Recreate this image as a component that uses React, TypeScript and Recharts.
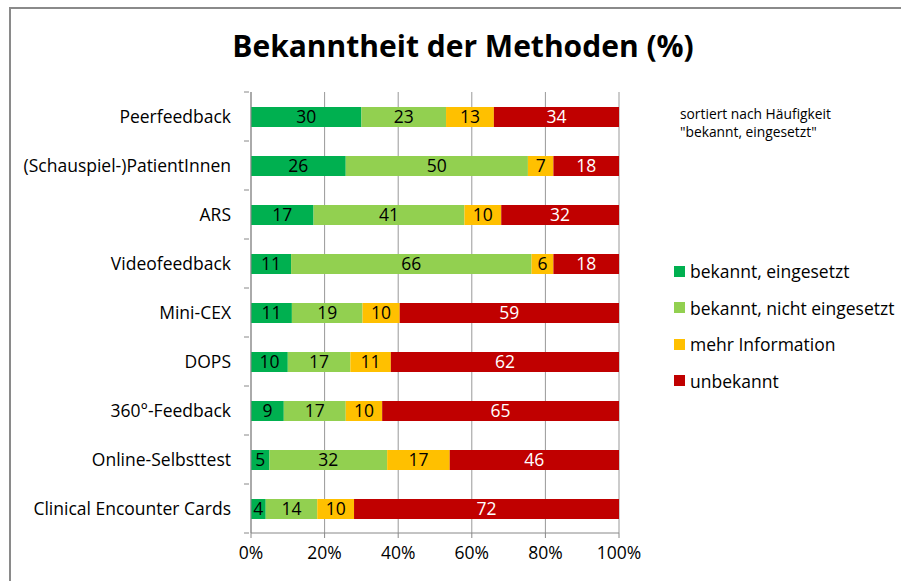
import React from "react";
import {
  BarChart,
  Bar,
  XAxis,
  YAxis,
  CartesianGrid,
  LabelList,
} from "recharts";

const categories = [
  "Peerfeedback",
  "(Schauspiel-)PatientInnen",
  "ARS",
  "Videofeedback",
  "Mini-CEX",
  "DOPS",
  "360°-Feedback",
  "Online-Selbsttest",
  "Clinical Encounter Cards",
];
const bekanntEingesetzt = [30, 26, 17, 11, 11, 10, 9, 5, 4];
const bekanntNichtEingesetzt = [23, 50, 41, 66, 19, 17, 17, 32, 14];
const mehrInformation = [13, 7, 10, 6, 10, 11, 10, 17, 10];
const unbekannt = [34, 18, 32, 18, 59, 62, 65, 46, 72];
const xTicks = [0, 0.2, 0.4, 0.6, 0.8, 1];

const seriesNames = [
  "bekannt, eingesetzt",
  "bekannt, nicht eingesetzt",
  "mehr Information",
  "unbekannt",
];
const seriesColors = ["#00B050", "#92D050", "#FFC000", "#C00000"];
const labelColors = ["#000000", "#000000", "#000000", "#FFFFFF"];

const data = categories.map((name, i) => ({
  name,
  s0: bekanntEingesetzt[i],
  s1: bekanntNichtEingesetzt[i],
  s2: mehrInformation[i],
  s3: unbekannt[i],
}));

const FONT = "'Open Sans', sans-serif";
const FS = 17.5;
const W = 901;
const H = 581;
const PLOT_LEFT = 251;
const PLOT_RIGHT = 619;
const PLOT_TOP = 92;
const PLOT_BOTTOM = 533;
const X_AXIS_H = 36;
const HALF_BAND = (PLOT_BOTTOM - PLOT_TOP) / categories.length / 2;

const CategoryTick = (props: any) => {
  const { x, y, payload, index } = props;
  const last = index === categories.length - 1;
  return (
    <g>
      <text
        x={x - 18}
        y={y}
        dy={6}
        textAnchor="end"
        fontSize={FS}
        fontFamily={FONT}
        fill="#000"
      >
        {payload.value}
      </text>
      <line x1={x - 5} x2={x} y1={y - HALF_BAND} y2={y - HALF_BAND} stroke="#888" />
      {last && (
        <line x1={x - 5} x2={x} y1={y + HALF_BAND} y2={y + HALF_BAND} stroke="#888" />
      )}
    </g>
  );
};

const LegendBox = () => (
  <div
    style={{
      position: "absolute",
      left: 674,
      top: 253,
      fontFamily: FONT,
      fontSize: FS,
      color: "#000",
    }}
  >
    {seriesNames.map((n, i) => (
      <div
        key={n}
        style={{ display: "flex", alignItems: "center", height: 36.5, whiteSpace: "nowrap" }}
      >
        <span
          style={{
            display: "inline-block",
            width: 11,
            height: 11,
            background: seriesColors[i],
            marginRight: 5,
          }}
        />
        <span>{n}</span>
      </div>
    ))}
  </div>
);

export default function App() {
  const keys = ["s0", "s1", "s2", "s3"];
  return (
    <div
      style={{
        position: "absolute",
        left: 0,
        top: 0,
        width: W,
        height: H,
        background: "#fff",
        overflow: "hidden",
      }}
    >
      <div
        style={{
          position: "absolute",
          left: 9,
          top: 7,
          width: W - 9,
          height: H - 7,
          borderLeft: "2px solid #8a8a8a",
          borderTop: "2px solid #8a8a8a",
          boxSizing: "border-box",
        }}
      />
      <div
        style={{
          position: "absolute",
          left: 163,
          top: 25,
          width: 600,
          textAlign: "center",
          fontFamily: FONT,
          fontWeight: 700,
          fontSize: 30,
          whiteSpace: "nowrap",
          color: "#000",
        }}
      >
        Bekanntheit der Methoden (%)
      </div>
      <div
        style={{
          position: "absolute",
          left: 680,
          top: 105,
          fontFamily: FONT,
          fontSize: 13.8,
          lineHeight: "18px",
          color: "#000",
        }}
      >
        sortiert nach Häufigkeit
        <br />
        "bekannt, eingesetzt"
      </div>
      <LegendBox />
      <div style={{ position: "absolute", left: 0, top: 0 }}>
        <BarChart
          width={W}
          height={H}
          data={data}
          layout="vertical"
          stackOffset="expand"
          barSize={20}
          margin={{
            top: PLOT_TOP,
            right: W - PLOT_RIGHT,
            bottom: H - PLOT_BOTTOM - X_AXIS_H,
            left: 0,
          }}
        >
          <CartesianGrid horizontal={false} stroke="#999" />
          <XAxis
            type="number"
            domain={[0, 1]}
            ticks={xTicks}
            tickFormatter={(v: number) => `${Math.round(v * 100)}%`}
            height={X_AXIS_H}
            stroke="#888"
            tickSize={5}
            tick={{ fill: "#000", fontSize: FS, fontFamily: FONT }}
            tickMargin={9}
            interval={0}
          />
          <YAxis
            type="category"
            dataKey="name"
            width={PLOT_LEFT}
            stroke="#888"
            tickLine={false}
            tickSize={0}
            tick={<CategoryTick />}
            interval={0}
          />
          {keys.map((k, i) => (
            <Bar
              key={k}
              dataKey={k}
              name={seriesNames[i]}
              stackId="a"
              fill={seriesColors[i]}
              isAnimationActive={false}
            >
              <LabelList
                dataKey={k}
                position="center"
                fill={labelColors[i]}
                fontSize={FS}
                fontFamily={FONT}
              />
            </Bar>
          ))}
        </BarChart>
      </div>
    </div>
  );
}
